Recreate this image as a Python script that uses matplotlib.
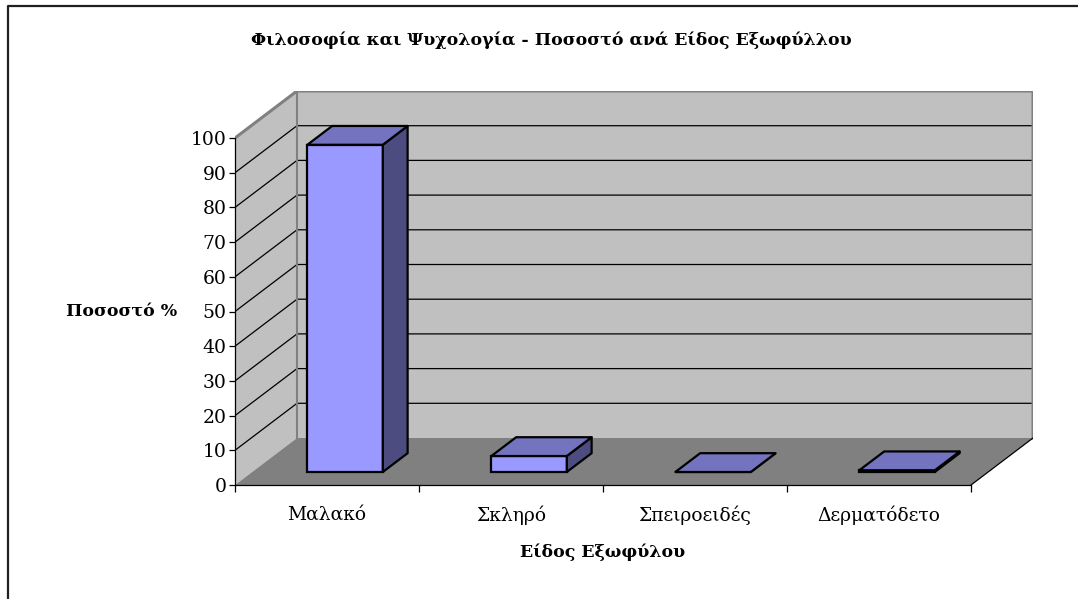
import matplotlib
matplotlib.use('Agg')
import matplotlib.pyplot as plt
from matplotlib.patches import Polygon
from matplotlib.lines import Line2D

# ---------------------------------------------------------
# Data
# ---------------------------------------------------------
categories = ['Μαλακό', 'Σκληρό', 'Σπειροειδές', 'Δερματόδετο']
values = [94.3, 4.6, 0.0, 0.5]
yticks = list(range(0, 101, 10))

title = 'Φιλοσοφία και Ψυχολογία - Ποσοστό ανά Είδος Εξωφύλλου'
ylabel = 'Ποσοστό %'
xlabel = 'Είδος Εξωφύλου'

# ---------------------------------------------------------
# Fake 3D geometry (oblique projection, in data units)
# ---------------------------------------------------------
W_PX, H_PX = 1078, 599
PX_CAT, PX_VAL = 184.0, 3.47
DX, DY = 62 / PX_CAT, 47 / PX_VAL      # full depth offset
D0, BD = 0.277, 0.40                  # bar front depth, bar depth
BW, BOFF = 0.41, 0.30                 # bar width, offset in category
ncat = len(categories)

plt.rcParams['font.family'] = ['DejaVu Serif']

fig = plt.figure(figsize=(W_PX / 100, H_PX / 100), dpi=100)
left, bottom = 235, 485
ax_w = (ncat + DX) * PX_CAT
ax_h = (100 + DY) * PX_VAL
ax = fig.add_axes([left / W_PX, (H_PX - bottom) / H_PX, ax_w / W_PX, ax_h / H_PX])
ax.set_xlim(0, ncat + DX)
ax.set_ylim(0, 100 + DY)
ax.patch.set_visible(False)

wall = '#C0C0C0'
floor = '#808080'
edge = '#808080'

# side wall
ax.add_patch(Polygon([(0, 0), (DX, DY), (DX, 100 + DY), (0, 100)],
                     closed=True, facecolor=wall, edgecolor='none', zorder=1))
# back wall
ax.add_patch(Polygon([(DX, DY), (ncat + DX, DY), (ncat + DX, 100 + DY), (DX, 100 + DY)],
                     closed=True, facecolor=wall, edgecolor='none', zorder=1))
# floor
ax.add_patch(Polygon([(0, 0), (ncat, 0), (ncat + DX, DY), (DX, DY)],
                     closed=True, facecolor=floor, edgecolor='none', zorder=1))

# gridlines
for v in yticks[1:-1]:
    ax.plot([0, DX, ncat + DX], [v, v + DY, v + DY], color='black', lw=0.9, zorder=2)

# wall edges
ax.plot([0, DX, ncat + DX, ncat + DX], [100, 100 + DY, 100 + DY, DY],
        color=edge, lw=2.2, zorder=3, solid_joinstyle='miter')
ax.plot([DX, DX], [DY, 100 + DY], color=edge, lw=1.5, zorder=2)
ax.plot([ncat, ncat + DX], [0, DY], color='black', lw=0.9, zorder=3)

# bars
front = '#9999FF'
top_c = '#7373BF'
side_c = '#4C4C80'
b = D0 * DY
xs = [i + BOFF + D0 * DX for i in range(ncat)]
ax.bar(xs, values, width=BW, bottom=b, align='edge', color=front,
       edgecolor='black', linewidth=1.6, zorder=5)
for x0, v in zip(xs, values):
    ddx, ddy = BD * DX, BD * DY
    ax.add_patch(Polygon([(x0 + BW, b), (x0 + BW + ddx, b + ddy),
                          (x0 + BW + ddx, b + ddy + v), (x0 + BW, b + v)],
                         closed=True, facecolor=side_c, edgecolor='black',
                         linewidth=1.6, zorder=5, joinstyle='round'))
    ax.add_patch(Polygon([(x0, b + v), (x0 + BW, b + v),
                          (x0 + BW + ddx, b + v + ddy), (x0 + ddx, b + v + ddy)],
                         closed=True, facecolor=top_c, edgecolor='black',
                         linewidth=1.6, zorder=6, joinstyle='round'))

# axes
for s in ['top', 'right']:
    ax.spines[s].set_visible(False)
ax.spines['left'].set_bounds(0, 100)
ax.spines['bottom'].set_bounds(0, ncat)
for s in ['left', 'bottom']:
    ax.spines[s].set_linewidth(0.9)
    ax.spines[s].set_zorder(4)
ax.set_yticks(yticks)
ax.set_yticklabels([str(v) for v in yticks], fontsize=13.5)
ax.tick_params(axis='y', direction='out', length=4.5, width=0.9, pad=1.5)
ax.set_xticks(range(ncat + 1))
ax.set_xticklabels([''] * (ncat + 1))
ax.tick_params(axis='x', which='major', direction='out', length=5, width=0.9)
ax.set_xticks([i + 0.5 for i in range(ncat)], minor=True)
ax.set_xticklabels(categories, minor=True, fontsize=13.5)
ax.tick_params(axis='x', which='minor', length=0, pad=15)

fig.text(122 / W_PX, 1 - 312 / H_PX, ylabel, fontsize=12.5, fontweight='bold',
         ha='center', va='center')
fig.text(603 / W_PX, 1 - 552 / H_PX, xlabel, fontsize=12.5, fontweight='bold',
         ha='center', va='center')
fig.text(551 / W_PX, 1 - 40 / H_PX, title, fontsize=12.5, fontweight='bold',
         ha='center', va='center')

# chart area border (only left and top are visible)
fig.add_artist(Line2D([8 / W_PX, 8 / W_PX, 1.01], [-0.01, 1 - 5.5 / H_PX, 1 - 5.5 / H_PX],
                      transform=fig.transFigure, color='#202020', lw=1.6))

fig.savefig('out.png', dpi=100, facecolor='white')
